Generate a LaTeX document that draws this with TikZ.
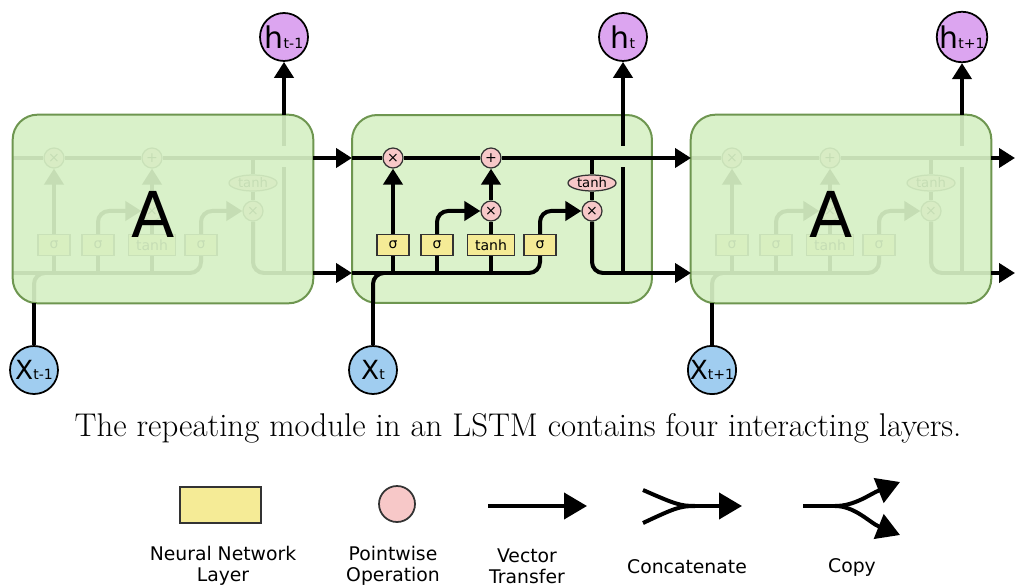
\documentclass[tikz,border=0pt]{standalone}
\usepackage{fontspec}
\newfontfamily\dv{DejaVu Sans}
\usetikzlibrary{arrows.meta,shapes.geometric}
\definecolor{cellfill}{RGB}{214,240,196}
\definecolor{cellborder}{RGB}{110,150,80}
\definecolor{nnfill}{RGB}{245,235,150}
\definecolor{pwfill}{RGB}{247,200,200}
\definecolor{hfill}{RGB}{220,165,240}
\definecolor{xfill}{RGB}{160,205,240}
\tikzset{
 ln/.style={line width=0.08cm},
 arr/.style={ln, -{Triangle[length=0.32cm,width=0.38cm]}},
 bigarr/.style={ln, -{Triangle[length=0.46cm,width=0.52cm]}},
 pw/.style={circle, draw=black!80, line width=0.025cm, fill=pwfill, minimum size=0.4cm, inner sep=0pt, font=\dv\fontsize{8}{8}\selectfont},
 pwe/.style={ellipse, draw=black!80, line width=0.025cm, fill=pwfill, minimum width=0.96cm, minimum height=0.32cm, inner sep=0pt, font=\dv\fontsize{7.5}{7.5}\selectfont},
 nn/.style={rectangle, draw=black!80, line width=0.03cm, fill=nnfill, minimum width=0.64cm, minimum height=0.42cm, inner sep=0pt, font=\dv\fontsize{8}{8}\selectfont},
 nnw/.style={nn, minimum width=0.94cm},
 cellshape/.style={rectangle, rounded corners=0.5cm, minimum width=6cm, minimum height=3.76cm, inner sep=0pt},
 cellpaint/.style={fill=cellfill, fill opacity=0.88, draw=cellborder, draw opacity=1, line width=0.04cm},
 fadepaint/.style={cellpaint, fill opacity=0.92},
 hcirc/.style={circle, draw=black, line width=0.035cm, fill=hfill, minimum size=0.96cm, inner sep=0pt, font=\dv},
 xcirc/.style={hcirc, fill=xfill},
 lbl/.style={font=\dv\fontsize{10.7}{12}\selectfont, align=center},
 bigA/.style={font=\dv\fontsize{36}{36}\selectfont},
}
\newcommand{\lstmcell}[2]{%
 \begin{scope}[shift={(#2,0)}]
  \node[pw] (f#1) at (41,158) {×};
  \node[pw] (a#1) at (139,158) {+};
  \node[pw] (i#1) at (139,211) {×};
  \node[pw] (o#1) at (240,211) {×};
  \node[pwe] (th#1) at (240,183) {tanh};
  \node[nn] (sa#1) at (41,245) {σ};
  \node[nn] (sb#1) at (85,245) {σ};
  \node[nnw] (t#1) at (139,245) {tanh};
  \node[nn] (sc#1) at (188,245) {σ};
  \coordinate (hw#1) at (0,273);
  \coordinate (cw#1) at (0,158);
  \coordinate (ho#1) at (300,273);
  \coordinate (co#1) at (300,158);
  \coordinate (vb#1) at (271,273);
  \coordinate (ga#1) at (271,167);
  \coordinate (gb#1) at (271,146);
  \coordinate (vt#1) at (271,115);
  \coordinate (xb#1) at (21,303);
 \end{scope}
 \draw[ln] (cw#1) -- (f#1);
 \draw[ln] (f#1) -- (a#1);
 \draw[ln] (a#1) -- (co#1);
 \draw[ln, rounded corners=0.22cm] (hw#1) -- (sc#1.south |- hw#1) -- (sc#1.south);
 \draw[ln, rounded corners=0.22cm] (xb#1) -- (xb#1 |- hw#1) -- ++(40,0);
 \draw[ln] (sa#1.south) -- (sa#1.south |- hw#1);
 \draw[ln] (sb#1.south) -- (sb#1.south |- hw#1);
 \draw[ln] (t#1.south) -- (t#1.south |- hw#1);
 \draw[arr] (sa#1) -- (f#1);
 \draw[arr, rounded corners=0.22cm] (sb#1.north) -- (sb#1.north |- i#1) -- (i#1);
 \draw[ln] (t#1) -- (i#1);
 \draw[arr] (i#1) -- (a#1);
 \draw[arr, rounded corners=0.22cm] (sc#1.north) -- (sc#1.north |- o#1) -- (o#1);
 \draw[ln] (th#1 |- cw#1) -- (th#1);
 \draw[ln] (th#1) -- (o#1);
 \draw[ln, rounded corners=0.22cm] (o#1) -- (o#1 |- ho#1) -- (ho#1);
 \draw[ln] (vb#1) -- (ga#1);
 \draw[ln] (gb#1) -- (vt#1);
}
\begin{document}
\begin{tikzpicture}[x=0.02cm, y=-0.02cm]
\useasboundingbox (0,0) rectangle (1016,587);
% outer inputs and outputs
\node[hcirc] (hL) at (284,37) {\fontsize{17}{17}\selectfont h\fontsize{8}{8}\selectfont t-1};
\node[hcirc] (hM) at (623,37) {\fontsize{17}{17}\selectfont h\fontsize{8}{8}\selectfont t};
\node[hcirc] (hR) at (962,37) {\fontsize{17}{17}\selectfont h\fontsize{8}{8}\selectfont t+1};
\node[xcirc] (xL) at (34,370) {\fontsize{15}{15}\selectfont X\fontsize{8}{8}\selectfont t-1};
\node[xcirc] (xM) at (373,370) {\fontsize{15}{15}\selectfont X\fontsize{8}{8}\selectfont t};
\node[xcirc] (xR) at (712,370) {\fontsize{15}{15}\selectfont X\fontsize{8}{8}\selectfont t+1};
% cells
\node[cellshape] (cellL) at (163,209) {};
\node[cellshape] (cellR) at (841,209) {};
\node[cellshape, cellpaint] (cellM) at (502,209) {};
\lstmcell{L}{13}
\lstmcell{M}{352}
\lstmcell{R}{691}
\path[fadepaint, rounded corners=0.5cm] (cellL.south west) rectangle (cellL.north east);
\path[fadepaint, rounded corners=0.5cm] (cellR.south west) rectangle (cellR.north east);
\node[bigA] (AL) at (153,214) {A};
\node[bigA] (AR) at (831,214) {A};
% connections between cells
\coordinate (endC) at (1015,158);
\coordinate (endH) at (1015,273);
\draw[arr] (coL) -- (cwM);
\draw[arr] (hoL) -- (hwM);
\draw[arr] (coM) -- (cwR);
\draw[arr] (hoM) -- (hwR);
\draw[arr] (coR) -- (endC);
\draw[arr] (hoR) -- (endH);
\draw[arr] (vtL) -- (hL);
\draw[arr] (vtM) -- (hM);
\draw[arr] (vtR) -- (hR);
\draw[ln] (xL) -- (xbL);
\draw[ln] (xM) -- (xbM);
\draw[ln] (xR) -- (xbR);
% caption
\node[font=\fontsize{18.7}{22}\selectfont] (cap) at (518,428) {The repeating module in an LSTM contains four interacting layers.};
% legend
\node[nn, minimum width=1.62cm, minimum height=0.72cm, line width=0.04cm] (lgnn) at (220.5,505) {};
\node[pw, minimum size=0.72cm, line width=0.035cm] (lgpw) at (397,504) {};
\coordinate (lva) at (488,506);
\coordinate (lvb) at (587,506);
\draw[bigarr] (lva) -- (lvb);
\coordinate (lca) at (643,490);
\coordinate (lcb) at (643,523);
\coordinate (lcm) at (695,506);
\coordinate (lce) at (742,506);
\draw[ln] (lca) .. controls (675,504) and (680,506) .. (lcm);
\draw[ln] (lcb) .. controls (675,508) and (680,506) .. (lcm);
\draw[bigarr] (lcm) -- (lce);
\coordinate (lpa) at (803,506);
\coordinate (lpm) at (835,506);
\coordinate (lpb) at (900,482);
\coordinate (lpc) at (900,535);
\draw[ln] (lpa) -- (lpm);
\draw[bigarr] (lpm) .. controls (855,506) and (870,494) .. (lpb);
\draw[bigarr] (lpm) .. controls (855,506) and (870,523) .. (lpc);
\node[lbl] (lnn) at (223,566) {Neural Network\\Layer};
\node[lbl] (lpwl) at (393,566) {Pointwise\\Operation};
\node[lbl] (lvt) at (527,566) {Vector\\Transfer};
\node[lbl] (lcc) at (687,567) {Concatenate};
\node[lbl] (lcp) at (852,567) {Copy};
\end{tikzpicture}
\end{document}
